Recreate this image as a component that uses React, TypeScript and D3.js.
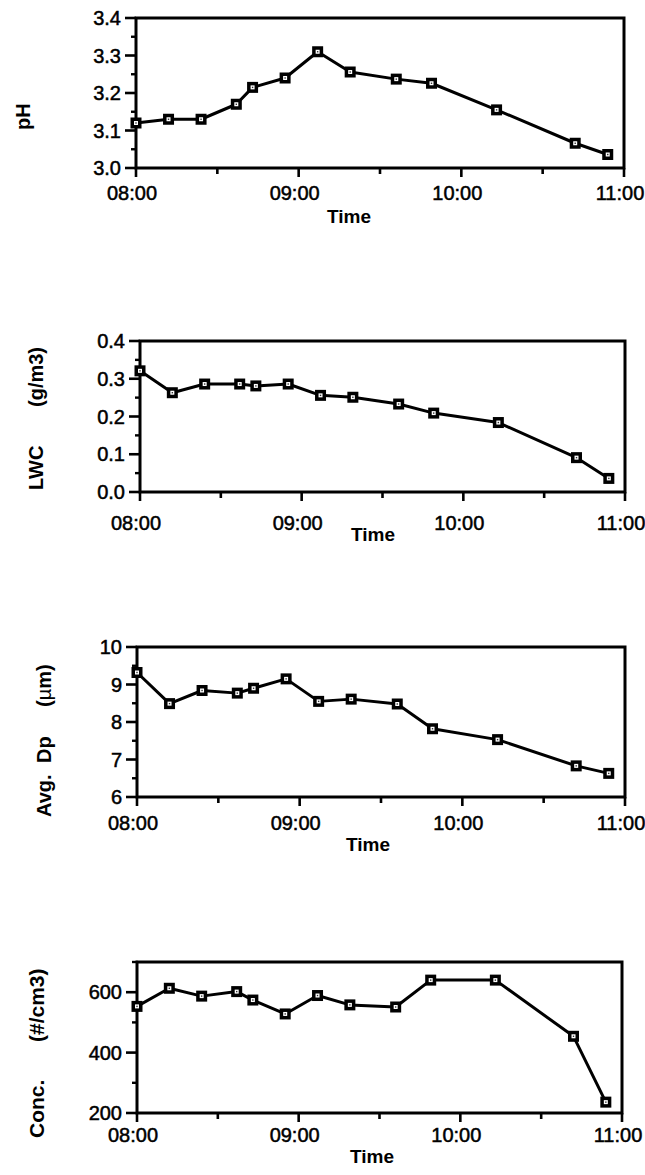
import React from "react";
import * as d3 from "d3";

// ---- data ----
const times = ["08:00", "08:12", "08:24", "08:37", "08:43", "08:55", "09:07", "09:19", "09:36", "09:49", "10:13", "10:42", "10:54"];
const phValues = [3.12, 3.13, 3.13, 3.17, 3.215, 3.24, 3.31, 3.256, 3.237, 3.226, 3.155, 3.066, 3.036];
const lwcValues = [0.321, 0.263, 0.286, 0.286, 0.281, 0.286, 0.256, 0.251, 0.233, 0.209, 0.184, 0.091, 0.036];
const dpValues = [9.32, 8.49, 8.84, 8.77, 8.9, 9.15, 8.55, 8.61, 8.48, 7.82, 7.53, 6.83, 6.63];
const concValues = [553, 613, 587, 602, 574, 528, 589, 558, 551, 640, 640, 454, 236];

const xTickLabels = ["08:00", "09:00", "10:00", "11:00"];
const xMinorLabels = ["08:30", "09:30", "10:30"];
const phTicks = [3.0, 3.1, 3.2, 3.3, 3.4];
const lwcTicks = [0.0, 0.1, 0.2, 0.3, 0.4];
const dpTicks = [6, 7, 8, 9, 10];
const concTicks = [200, 400, 600];

const parse = d3.timeParse("%H:%M");

type Word = { text: string; y: number; mu?: boolean };
type Panel = {
  values: number[];
  domain: [number, number];
  ticks: number[];
  minorStep: number;
  fmt: (v: number) => string;
  box: { x0: number; x1: number; y0: number; y1: number };
  xLabelBase: number;
  timeX: number;
  timeBase: number;
  titleX: number;
  titleSize: number;
  words: Word[];
};

const FONT = "'Liberation Sans', Arial, Helvetica, sans-serif";

const panels: Panel[] = [
  {
    values: phValues,
    domain: [3.0, 3.4],
    ticks: phTicks,
    minorStep: 0.05,
    fmt: d3.format(".1f"),
    box: { x0: 136, x1: 624, y0: 18, y1: 168 },
    xLabelBase: 200,
    timeX: 349,
    timeBase: 223,
    titleX: 30,
    titleSize: 20,
    words: [{ text: "pH", y: 130 }],
  },
  {
    values: lwcValues,
    domain: [0, 0.4],
    ticks: lwcTicks,
    minorStep: 0.05,
    fmt: d3.format(".1f"),
    box: { x0: 140, x1: 625, y0: 341, y1: 492 },
    xLabelBase: 530,
    timeX: 373,
    timeBase: 541,
    titleX: 43,
    titleSize: 20,
    words: [
      { text: "LWC", y: 490 },
      { text: "(g/m3)", y: 407 },
    ],
  },
  {
    values: dpValues,
    domain: [6, 10],
    ticks: dpTicks,
    minorStep: 0.5,
    fmt: d3.format("d"),
    box: { x0: 137, x1: 625, y0: 647, y1: 797 },
    xLabelBase: 830,
    timeX: 368,
    timeBase: 851,
    titleX: 51,
    titleSize: 20,
    words: [
      { text: "Avg.", y: 817 },
      { text: "Dp", y: 763 },
      { text: "(\u00b5m)", y: 707, mu: true },
    ],
  },
  {
    values: concValues,
    domain: [200, 700],
    ticks: concTicks,
    minorStep: 100,
    fmt: d3.format("d"),
    box: { x0: 137, x1: 622, y0: 962, y1: 1113 },
    xLabelBase: 1142,
    timeX: 372,
    timeBase: 1163,
    titleX: 44,
    titleSize: 21,
    words: [
      { text: "Conc.", y: 1138 },
      { text: "(#/cm3)", y: 1042 },
    ],
  },
];

function Marker({ x, y }: { x: number; y: number }) {
  return (
    <g transform={`translate(${x},${y})`}>
      <rect x={-5.5} y={-5.5} width={11} height={11} fill="#000" />
      <rect x={-2} y={-2} width={4} height={4} fill="#fff" />
      <rect x={-0.7} y={-0.7} width={1.4} height={1.4} fill="#333" />
    </g>
  );
}

function PanelView({ p }: { p: Panel }) {
  const { x0, x1, y0, y1 } = p.box;
  const x = d3.scaleTime().domain([parse("08:00")!, parse("11:00")!]).range([x0, x1]);
  const y = d3.scaleLinear().domain(p.domain).range([y1, y0]);
  const pts = times.map((t, i) => [x(parse(t)!), y(p.values[i])] as [number, number]);
  const line = d3.line().curve(d3.curveLinear)(pts) || "";
  const minors = d3
    .range(p.domain[0], p.domain[1] + 1e-9, p.minorStep)
    .filter((v) => !p.ticks.some((t) => Math.abs(t - v) < 1e-9));

  return (
    <g>
      <rect x={x0} y={y0} width={x1 - x0} height={y1 - y0} fill="none" stroke="#000" strokeWidth={3} />
      {/* y ticks */}
      {p.ticks.map((t) => (
        <g key={"yt" + t}>
          <line x1={x0 - 11} x2={x0} y1={y(t)} y2={y(t)} stroke="#000" strokeWidth={2.6} />
          <text
            x={x0 - 15}
            y={y(t) + 7}
            textAnchor="end"
            fontSize={20}
            fontFamily={FONT}
            fill="#000"
            stroke="#000"
            strokeWidth={0.5}
          >
            {p.fmt(t)}
          </text>
        </g>
      ))}
      {minors.map((t) => (
        <line key={"ym" + t} x1={x0 - 5} x2={x0 + 1} y1={y(t)} y2={y(t)} stroke="#000" strokeWidth={2.4} />
      ))}
      {/* x ticks */}
      {xTickLabels.map((t) => (
        <g key={"xt" + t}>
          <line x1={x(parse(t)!)} x2={x(parse(t)!)} y1={y1} y2={y1 + 9} stroke="#000" strokeWidth={2.6} />
          <text
            x={x(parse(t)!) - 4}
            y={p.xLabelBase}
            textAnchor="middle"
            fontSize={20}
            fontFamily={FONT}
            fill="#000"
            stroke="#000"
            strokeWidth={0.5}
          >
            {t}
          </text>
        </g>
      ))}
      {xMinorLabels.map((t) => (
        <line key={"xm" + t} x1={x(parse(t)!)} x2={x(parse(t)!)} y1={y1} y2={y1 + 6} stroke="#000" strokeWidth={2.6} />
      ))}
      {/* axis titles */}
      <text x={p.timeX} y={p.timeBase} textAnchor="middle" fontSize={19} fontWeight="bold" fontFamily={FONT} fill="#000">
        Time
      </text>
      {p.words.map((w) => (
        <text
          key={w.text}
          transform={`translate(${p.titleX},${w.y}) rotate(-90)`}
          textAnchor="start"
          fontSize={p.titleSize}
          fontWeight="bold"
          fontFamily={FONT}
          fill="#000"
        >
          {w.mu ? (
            <>
              <tspan>(</tspan>
              <tspan fontWeight="normal">{"\u00b5"}</tspan>
              <tspan>m)</tspan>
            </>
          ) : (
            w.text
          )}
        </text>
      ))}
      {/* data */}
      <path d={line} fill="none" stroke="#000" strokeWidth={3} strokeLinejoin="round" />
      {pts.map(([px, py], i) => (
        <Marker key={i} x={px} y={py} />
      ))}
    </g>
  );
}

export default function App() {
  return (
    <svg
      width={645}
      height={1175}
      viewBox="0 0 645 1175"
      style={{ position: "absolute", left: 0, top: 0, background: "#fff" }}
    >
      <rect x={0} y={0} width={645} height={1175} fill="#fff" />
      {panels.map((p, i) => (
        <PanelView key={i} p={p} />
      ))}
    </svg>
  );
}
